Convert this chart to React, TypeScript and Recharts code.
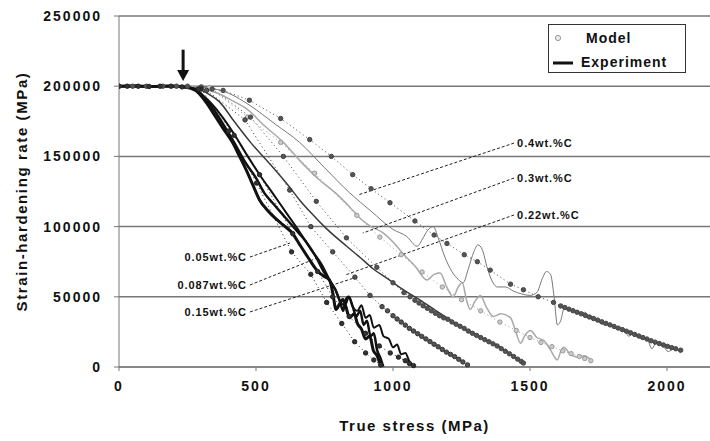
import { CartesianGrid, Line, LineChart, ReferenceDot, ReferenceLine, XAxis, YAxis } from 'recharts';

// experiment curves: [true stress (MPa), strain-hardening rate (MPa)]
const exp005 = [
  [0, 200000], [60, 200300], [120, 199800], [180, 200200], [240, 199500], [280, 197000], [320, 188000],
  [350, 179000], [380, 170000], [414, 160000], [440, 150000], [465, 140000], [490, 129000], [513, 119000],
  [540, 112000], [570, 106000], [600, 101000], [634, 95000], [660, 87000], [690, 78000], [722, 69000],
  [745, 65000], [768, 62000], [780, 53000], [792, 41000], [805, 45000], [817, 48000], [828, 43000],
  [842, 35000], [858, 38000], [870, 31000], [885, 27000], [900, 20000], [915, 22000], [928, 12000],
  [942, 8000], [952, 3000], [960, 0],
];
const exp0087 = [
  [0, 200000], [100, 199700], [200, 200100], [260, 198800], [300, 194000], [340, 185000], [380, 173000],
  [420, 160000], [460, 146000], [502, 134000], [530, 124000], [560, 117000], [600, 108000], [640, 99000],
  [680, 90000], [720, 78000], [750, 67000], [770, 61000], [790, 55000], [806, 47000], [818, 40000],
  [826, 47000], [838, 50000], [853, 43000], [866, 36000], [880, 40000], [893, 30000], [905, 33000],
  [918, 22000], [930, 24000], [942, 12000], [955, 6000], [965, 0],
];
const exp015 = [
  [0, 200000], [150, 200000], [270, 198500], [320, 191000], [370, 180000], [420, 166000], [470, 150000],
  [520, 135000], [560, 124000], [610, 110000], [660, 96000], [700, 84000], [740, 73000], [769, 62000],
  [790, 55000], [806, 47000], [825, 44000], [840, 50000], [853, 43000], [870, 40000], [885, 44000],
  [900, 35000], [915, 37000], [930, 28000], [950, 30000], [965, 22000], [985, 20000], [1000, 14000],
  [1015, 16000], [1030, 9000], [1045, 10000], [1060, 4000], [1073, 1000],
];
const exp022 = [
  [0, 200000], [200, 200000], [280, 198500], [330, 194000], [366, 189000], [420, 175000], [480, 160000],
  [549, 145000], [623, 128000], [659, 119000], [700, 110000], [760, 98000], [831, 86000], [880, 78000],
  [927, 70000], [980, 63000], [1030, 56000], [1088, 49000], [1150, 41000], [1209, 33500], [1270, 26000],
  [1330, 20000], [1392, 14000], [1430, 9000], [1460, 5000], [1476, 2500],
];
const exp03 = [
  [0, 200000], [250, 200000], [300, 198500], [360, 195000], [420, 189000], [465, 184000], [530, 172000],
  [600, 160000], [660, 147000], [733, 133000], [790, 124000], [842, 114000], [880, 106000], [920, 100000],
  [960, 96000], [1000, 89000], [1040, 80000], [1080, 72000], [1124, 62000], [1150, 66000], [1172, 67000],
  [1196, 57000], [1220, 50000], [1238, 57000], [1253, 60000], [1268, 48000], [1282, 41000], [1300, 47000],
  [1319, 51000], [1340, 43000], [1366, 36000], [1395, 38000], [1429, 35000], [1447, 26000], [1465, 17000],
  [1483, 23000], [1502, 26000], [1525, 21000], [1550, 19000], [1575, 12000], [1600, 5000], [1612, 11000],
  [1623, 14000], [1648, 9000], [1673, 7000], [1698, 8000], [1722, 5000],
];
const exp04 = [
  [0, 200000], [250, 200000], [320, 199000], [400, 195000], [480, 186000], [570, 173000], [659, 160000],
  [750, 142000], [842, 124000], [920, 111000], [1000, 98000], [1050, 93000], [1088, 86000], [1110, 92000],
  [1125, 97000], [1147, 100000], [1165, 92000], [1190, 78000], [1215, 68000], [1240, 62000], [1256, 60000],
  [1275, 70000], [1295, 82000], [1310, 87000], [1325, 84000], [1345, 70000], [1365, 60000], [1381, 57000],
  [1410, 57000], [1440, 54000], [1470, 52000], [1500, 51000], [1525, 53000], [1545, 63000], [1560, 68000],
  [1575, 66000], [1588, 50000], [1600, 30000], [1612, 33000], [1625, 42000], [1650, 40000], [1680, 38000],
  [1700, 39000], [1720, 35000], [1745, 33000], [1770, 30000], [1790, 31000], [1815, 27000], [1840, 28000],
  [1860, 22000], [1880, 24000], [1905, 20000], [1925, 21000], [1945, 13000], [1960, 17000], [1985, 15000],
  [2005, 11000], [2025, 13000], [2050, 10000],
];

// model points
const mod005 = [
  [0, 200000], [30, 200000], [70, 200000], [110, 199800], [150, 200000], [190, 200000], [230, 199500],
  [290, 198000], [400, 168000], [502, 131000], [630, 82000], [700, 66000], [758, 46000], [813, 31000],
  [860, 18000], [900, 10000], [930, 5000], [955, 1500],
];
const mod015 = [
  [300, 198000], [420, 165000], [513, 137000], [634, 95000], [725, 68000], [780, 50000], [840, 36000],
  [900, 24000], [950, 15000], [990, 10000], [1020, 7000], [1045, 4500], [1060, 2500], [1075, 1000],
];
const mod022 = [
  [320, 197000], [460, 176000], [623, 126000], [700, 100000], [780, 82000], [861, 64000], [916, 51000],
  [960, 43000], [980, 40000], [1000, 36500], [1015, 34200], [1030, 32000], [1045, 29800], [1060, 27500],
  [1075, 25600], [1090, 23700], [1105, 21800], [1120, 20000], [1135, 18100], [1150, 16200], [1165, 14400],
  [1180, 12500], [1195, 10600], [1210, 9000], [1225, 7400], [1240, 5500], [1255, 3600], [1272, 1500],
];
const mod03 = [
  [340, 198000], [480, 178000], [600, 150000], [720, 118000], [830, 92000], [941, 71000], [1000, 60000],
  [1040, 53000], [1062, 50000], [1080, 47500], [1095, 45600], [1110, 43600], [1125, 41800], [1140, 40000],
  [1155, 38200], [1170, 36500], [1185, 35000], [1200, 34000], [1215, 32100], [1230, 30500], [1245, 29000],
  [1260, 27500], [1275, 25600], [1290, 24000], [1305, 22500], [1320, 21000], [1335, 19500], [1350, 18000],
  [1365, 16500], [1380, 15000], [1395, 13100], [1410, 11200], [1425, 9400], [1440, 7500], [1455, 5600],
  [1468, 4000], [1476, 2800],
];
const mod03b = [
  [330, 199000], [469, 178000], [590, 160000], [714, 138000], [868, 108000], [952, 92500], [1030, 80000],
  [1106, 67700], [1180, 57000], [1250, 48000], [1320, 40000], [1390, 32000], [1450, 26000], [1500, 21000],
  [1540, 17500], [1580, 14500], [1620, 11500], [1650, 9500], [1680, 7500], [1700, 6000], [1722, 4500],
];
const mod04 = [
  [0, 200000], [50, 200000], [100, 200000], [160, 200000], [210, 200000], [250, 200000], [300, 199500],
  [380, 197000], [476, 190000], [590, 177000], [696, 162000], [775, 150000], [853, 137000], [920, 127000],
  [989, 117000], [1080, 104000], [1150, 94000], [1197, 88000], [1260, 80000], [1308, 75000], [1355, 69000],
  [1429, 59000], [1476, 55000], [1530, 50000], [1586, 46000], [1612, 43500], [1627, 42400], [1642, 41200],
  [1657, 40100], [1672, 39000], [1687, 37900], [1702, 36700], [1717, 35600], [1732, 34500], [1747, 33400],
  [1762, 32200], [1777, 31100], [1792, 30000], [1807, 28900], [1822, 27700], [1837, 26600], [1852, 25500],
  [1867, 24400], [1882, 23200], [1897, 22100], [1912, 21000], [1927, 19900], [1942, 18700], [1957, 17700],
  [1972, 16700], [1987, 15700], [2002, 14700], [2017, 13800], [2032, 13000], [2050, 12000],
];

const xTicks = [0, 500, 1000, 1500, 2000];
const yTicks = [0, 50000, 100000, 150000, 200000, 250000];

// composition labels with their leader lines: text anchor point, leader start, leader end
const labelText = ['0.4wt.%C', '0.3wt.%C', '0.22wt.%C', '0.05wt.%C', '0.087wt.%C', '0.15wt.%C'];
const labelAt = [[1453, 159500], [1453, 134600], [1453, 108300], [467, 78300], [467, 58400], [467, 39200]];
const leaderFrom = [[1442, 159500], [1442, 134600], [1442, 108300], [478, 78300], [478, 58400], [478, 39200]];
const leaderTo = [[872, 122500], [890, 95400], [825, 65500], [624, 88300], [723, 77600], [869, 64100]];

const arrowX = 234;

const font = '"Liberation Sans", Arial, sans-serif';
const toPts = (arr: number[][]) => arr.map(([x, y]) => ({ x, y }));

const experiments = [
  { id: 'e04', data: exp04, color: '#777', width: 1 },
  { id: 'e03', data: exp03, color: '#a8a8a8', width: 1.5 },
  { id: 'e022', data: exp022, color: '#3a3a3a', width: 1.5 },
  { id: 'e015', data: exp015, color: '#111', width: 2 },
  { id: 'e0087', data: exp0087, color: '#111', width: 2.5 },
  { id: 'e005', data: exp005, color: '#111', width: 3 },
];

const models = [
  { id: 'm04', data: mod04, color: '#444', fill: '#555' },
  { id: 'm03b', data: mod03b, color: '#999', fill: '#ccc' },
  { id: 'm03', data: mod03, color: '#444', fill: '#555' },
  { id: 'm022', data: mod022, color: '#333', fill: '#555' },
  { id: 'm015', data: mod015, color: '#222', fill: '#333' },
  { id: 'm005', data: mod005, color: '#222', fill: '#333' },
];

export default function App() {
  return (
    <div style={{ position: 'absolute', left: 0, top: 0, width: 710, height: 441, background: '#fff', fontFamily: font }}>
      <LineChart width={710} height={441} margin={{ top: 16, right: 0, bottom: 0, left: 0 }}>
        <CartesianGrid vertical={false} stroke="#777" strokeWidth={1.5} />
        <XAxis
          type="number"
          dataKey="x"
          domain={[0, 2157]}
          ticks={xTicks}
          allowDataOverflow
          height={74}
          tickSize={4}
          tickMargin={10}
          stroke="#777"
          tick={{ fill: '#111', fontSize: 14, fontWeight: 700, fontFamily: font, letterSpacing: 2 }}
          label={{
            content: (p: any) => (
              <text
                x={p.viewBox.x + p.viewBox.width / 2}
                y={p.viewBox.y + 58}
                textAnchor="middle"
                dominantBaseline="central"
                fontSize={15}
                fontWeight={700}
                letterSpacing={1.5}
                fill="#111"
                fontFamily={font}
              >
                True stress (MPa)
              </text>
            ),
          }}
        />
        <YAxis
          type="number"
          dataKey="y"
          domain={[0, 250000]}
          ticks={yTicks}
          width={119}
          tickSize={5}
          tickMargin={12}
          stroke="#777"
          tick={{ fill: '#111', fontSize: 14, fontWeight: 700, fontFamily: font, letterSpacing: 2 }}
          label={{
            content: (p: any) => {
              const cx = p.viewBox.x + 21;
              const cy = p.viewBox.y + p.viewBox.height / 2;
              return (
                <text
                  x={cx}
                  y={cy}
                  transform={`rotate(-90 ${cx} ${cy})`}
                  textAnchor="middle"
                  dominantBaseline="central"
                  fontSize={15}
                  fontWeight={700}
                  letterSpacing={1.6}
                  fill="#111"
                  fontFamily={font}
                >
                  Strain-hardening rate (MPa)
                </text>
              );
            },
          }}
        />

        {models.map((m) => (
          <Line
            key={m.id}
            data={toPts(m.data)}
            dataKey="y"
            type="linear"
            stroke={m.color}
            strokeWidth={1}
            strokeDasharray="1 3"
            dot={{ r: 2.2, stroke: m.color, strokeWidth: 1, fill: m.fill, strokeDasharray: '' }}
            isAnimationActive={false}
          />
        ))}
        {experiments.map((e) => (
          <Line
            key={e.id}
            data={toPts(e.data)}
            dataKey="y"
            type="monotone"
            stroke={e.color}
            strokeWidth={e.width}
            dot={false}
            isAnimationActive={false}
          />
        ))}

        {labelText.map((t, i) => (
          <ReferenceLine
            key={'ld' + i}
            segment={[
              { x: leaderFrom[i][0], y: leaderFrom[i][1] },
              { x: leaderTo[i][0], y: leaderTo[i][1] },
            ]}
            stroke="#222"
            strokeWidth={1}
            strokeDasharray="3 2"
            ifOverflow="visible"
          />
        ))}
        {labelText.map((t, i) => (
          <ReferenceDot
            key={'lb' + i}
            x={labelAt[i][0]}
            y={labelAt[i][1]}
            ifOverflow="visible"
            shape={(p: any) => (
              <text
                x={p.cx}
                y={p.cy}
                textAnchor={i < 3 ? 'start' : 'end'}
                dominantBaseline="central"
                fontSize={11}
                fontWeight={700}
                letterSpacing={0.9}
                fill="#111"
                fontFamily={font}
              >
                {t}
              </text>
            )}
          />
        ))}

        <ReferenceLine
          segment={[
            { x: arrowX, y: 226000 },
            { x: arrowX, y: 211000 },
          ]}
          stroke="#111"
          strokeWidth={3}
          ifOverflow="visible"
        />
        <ReferenceDot
          x={arrowX}
          y={208000}
          ifOverflow="visible"
          shape={(p: any) => (
            <polygon
              points={`${p.cx - 6},${p.cy - 5} ${p.cx + 6},${p.cy - 5} ${p.cx},${p.cy + 6}`}
              fill="#111"
            />
          )}
        />
      </LineChart>

      <div
        style={{
          position: 'absolute',
          left: 548,
          top: 24,
          width: 136,
          height: 47,
          border: '1.5px solid #333',
          background: '#fff',
          fontWeight: 700,
          fontSize: 14,
          color: '#111',
          letterSpacing: 1,
        }}
      >
        <svg width={30} height={47} style={{ position: 'absolute', left: 0, top: 0 }}>
          <circle cx={9} cy={13} r={2.6} fill="#eee" stroke="#999" strokeWidth={1} />
          <line x1={4} x2={24} y1={38} y2={38} stroke="#111" strokeWidth={3} />
        </svg>
        <div style={{ position: 'absolute', left: 37, top: 5, lineHeight: '16px' }}>Model</div>
        <div style={{ position: 'absolute', left: 32, top: 29, lineHeight: '16px' }}>Experiment</div>
      </div>
    </div>
  );
}
